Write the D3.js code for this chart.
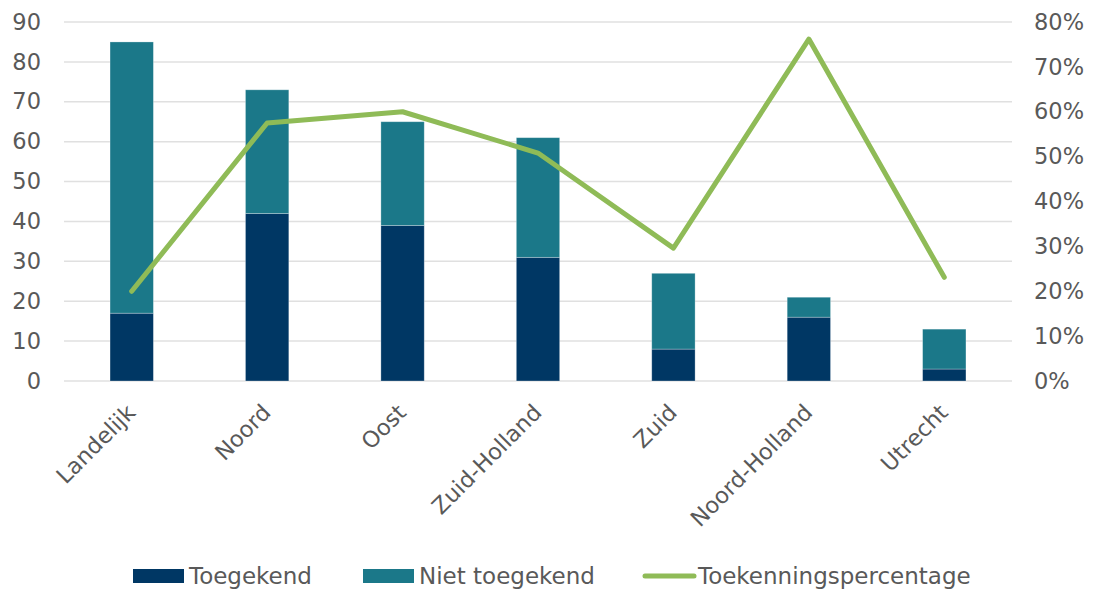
<!DOCTYPE html>
<html>
<head>
<meta charset="utf-8">
<script src="https://cdn.jsdelivr.net/npm/d3@7"></script>
<style>
  body { margin: 0; background: #fff; }
  text { font-family: "DejaVu Sans", Verdana, sans-serif; fill: #595959; }
</style>
</head>
<body>
<svg id="chart" width="1096" height="589"></svg>
<script>
const regions = ['Landelijk', 'Noord', 'Oost', 'Zuid-Holland', 'Zuid', 'Noord-Holland', 'Utrecht'];
const toegekend = [17, 42, 39, 31, 8, 16, 3];
const nietToegekend = [68, 31, 26, 30, 19, 5, 10];
const percentage = [20, 57.5, 60, 50.8, 29.6, 76.2, 23.1];
const leftTicks = [0, 10, 20, 30, 40, 50, 60, 70, 80, 90];
const rightTicks = [0, 10, 20, 30, 40, 50, 60, 70, 80];

const colors = { toegekend: '#003764', niet: '#1b7889', line: '#8fbb57', grid: '#e0e0e0' };
const margin = { top: 22, right: 84, bottom: 208, left: 64 };
const width = 1096, height = 589;
const fontSize = 22.5;

const svg = d3.select('#chart');

const x = d3.scaleBand()
  .domain(regions)
  .range([margin.left, width - margin.right])
  .paddingInner(0.68)
  .paddingOuter(0.34);

const y = d3.scaleLinear().domain([0, 90]).range([height - margin.bottom, margin.top]);
const yRight = d3.scaleLinear().domain([0, 80]).range([height - margin.bottom, margin.top]);

// Gridlines.
svg.append('g')
  .selectAll('line')
    .data(leftTicks)
  .join('line')
    .attr('x1', margin.left)
    .attr('x2', width - margin.right)
    .attr('y1', d => y(d))
    .attr('y2', d => y(d))
    .attr('stroke', colors.grid)
    .attr('stroke-width', 1.5);

// Stacked bars.
const rows = regions.map((r, i) => ({ region: r, toegekend: toegekend[i], niet: nietToegekend[i] }));
const stack = d3.stack().keys(['toegekend', 'niet'])(rows);

svg.append('g')
  .selectAll('g')
    .data(stack)
  .join('g')
    .attr('fill', d => d.key === 'toegekend' ? colors.toegekend : colors.niet)
  .selectAll('rect')
    .data(d => d)
  .join('rect')
    .attr('x', d => x(d.data.region))
    .attr('width', x.bandwidth())
    .attr('y', d => y(d[1]))
    .attr('height', d => y(d[0]) - y(d[1]))
    .attr('stroke', '#ffffff')
    .attr('stroke-opacity', 0.35)
    .attr('stroke-width', 0.8);

// Percentage line.
const line = d3.line()
  .x((d, i) => x(regions[i]) + x.bandwidth() / 2)
  .y(d => yRight(d));

svg.append('path')
  .datum(percentage)
  .attr('d', line)
  .attr('fill', 'none')
  .attr('stroke', colors.line)
  .attr('stroke-width', 5)
  .attr('stroke-linejoin', 'round')
  .attr('stroke-linecap', 'round');

// Left axis.
const leftAxis = svg.append('g')
  .attr('transform', `translate(${margin.left},0)`)
  .call(d3.axisLeft(y).tickValues(leftTicks).tickSize(0).tickPadding(23));
leftAxis.select('.domain').remove();
leftAxis.selectAll('text').attr('font-size', fontSize).style('fill', '#595959');

// Right axis.
const rightAxis = svg.append('g')
  .attr('transform', `translate(${width - margin.right},0)`)
  .call(d3.axisRight(yRight).tickValues(rightTicks).tickSize(0).tickPadding(22).tickFormat(d => d + '%'));
rightAxis.select('.domain').remove();
rightAxis.selectAll('text').attr('font-size', fontSize).style('fill', '#595959');

// Category labels.
const xAxis = svg.append('g')
  .attr('transform', `translate(0,${height - margin.bottom})`)
  .call(d3.axisBottom(x).tickSize(0).tickPadding(0));
xAxis.select('.domain').remove();
xAxis.selectAll('text')
  .attr('font-size', fontSize)
  .style('fill', '#595959')
  .attr('text-anchor', 'end')
  .attr('dy', 0)
  .attr('transform', 'translate(5,33) rotate(-45)');

// Legend.
const legend = svg.append('g').attr('transform', 'translate(0,576)');
const items = [
  { label: 'Toegekend', type: 'rect', color: colors.toegekend, x: 133 },
  { label: 'Niet toegekend', type: 'rect', color: colors.niet, x: 363 },
  { label: 'Toekenningspercentage', type: 'line', color: colors.line, x: 642 }
];

items.forEach(item => {
  if (item.type === 'rect') {
    legend.append('rect')
      .attr('x', item.x).attr('y', -7).attr('width', 51).attr('height', 14)
      .attr('fill', item.color);
  } else {
    legend.append('line')
      .attr('x1', item.x + 3).attr('x2', item.x + 52).attr('y1', 0).attr('y2', 0)
      .attr('stroke', item.color).attr('stroke-width', 5).attr('stroke-linecap', 'round');
  }
  legend.append('text')
    .attr('x', item.x + 56)
    .attr('y', 0)
    .attr('dy', '0.35em')
    .attr('font-size', 23)
    .text(item.label);
});
</script>
</body>
</html>
